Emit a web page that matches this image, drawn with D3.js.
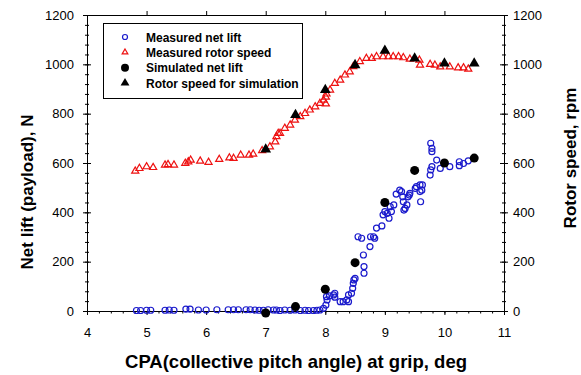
<!DOCTYPE html>
<html>
<head>
  <script src="https://d3js.org/d3.v7.min.js"></script>
  <style>
    body { margin: 0; background: #fff; }
    svg { font-family: Arial, "Liberation Sans", sans-serif; }
    .axis path, .axis line { stroke: #000; stroke-width: 1; }
    .axis text { font-size: 13px; fill: #000; }
    .title { font-size: 17px; font-weight: bold; }
    .legend text { font-size: 12px; font-weight: bold; }
  </style>
</head>
<body>
<script>
// measured net lift (blue open circles, left axis)
var liftCpa = [4.83,4.90,5.00,5.07,5.31,5.38,5.46,5.66,5.73,5.87,6.00,6.18,6.37,6.46,6.54,6.67,6.74,6.82,6.89,6.96,
  7.04,7.13,7.18,7.24,7.32,7.41,7.49,7.58,7.66,7.72,7.80,7.86,7.91,7.97,
  8.01,8.03,8.02,8.07,8.14,8.16,8.16,8.25,8.30,8.36,8.39,8.39,8.44,8.46,8.47,8.48,8.50,
  8.55,8.61,8.64,8.65,8.65,8.75,8.76,8.81,8.83,8.86,8.95,8.97,9.00,9.04,9.07,9.09,9.11,9.15,
  9.19,9.25,9.28,9.30,9.31,9.32,9.34,9.37,9.39,9.41,9.42,9.51,9.53,9.59,9.59,9.60,9.62,9.63,
  9.76,9.77,9.79,9.79,9.79,9.77,9.87,9.93,10.09,10.25,10.25,10.32,10.40];
var liftN = [2,2,3,3,3,4,3,8,8,4,4,5,5,5,5,5,5,4,3,3,
  5,4,4,2,4,3,4,2,3,2,2,3,4,11,
  24,45,58,61,65,72,56,38,38,45,38,65,72,92,112,126,132,
  301,295,227,180,153,261,301,301,295,336,345,390,403,396,376,423,403,430,
  474,490,484,463,443,409,416,430,463,470,477,497,504,511,484,443,490,511,
  551,572,585,646,659,680,612,578,585,605,589,598,609];

// measured rotor speed (red open triangles, right axis)
var rpmCpa = [4.81,4.88,5.00,5.11,5.31,5.36,5.46,5.65,5.70,5.74,5.90,6.04,6.22,6.39,6.46,6.58,6.72,6.79,6.94,
  7.07,7.16,7.18,7.21,7.24,7.32,7.41,7.49,7.58,7.66,7.74,7.83,7.91,7.97,8.01,8.01,8.02,8.08,8.16,8.25,
  8.33,8.41,8.47,8.58,8.69,8.78,8.86,8.97,9.06,9.14,9.23,9.31,9.42,9.58,9.59,9.76,9.84,9.93,
  10.09,10.23,10.32,10.40];
var rpm = [567,578,585,582,592,594,592,599,605,612,608,603,615,621,619,632,632,636,650,
  666,686,707,720,720,741,754,774,788,801,815,828,842,855,840,867,880,896,923,936,
  957,970,991,1011,1024,1024,1031,1031,1031,1031,1031,1027,1021,1017,997,1000,997,990,
  990,986,986,981];

// simulation (black filled markers)
var simCpa = [7.0,7.5,8.0,8.5,9.0,9.5,10.0,10.5];
var simLift = [-8,18,88,196,440,570,600,620];
var simRpm = [655,795,896,997,1055,1024,1004,1004];

var xTicks = [4,5,6,7,8,9,10,11];
var yTicks = [0,200,400,600,800,1000,1200];

var svg = d3.select("body").append("svg").attr("width", 581).attr("height", 375);

var pLeft = 87, pRight = 504, pTop = 15, pBottom = 311;
var x = d3.scaleLinear().domain([4, 11]).range([pLeft, pRight]);
var yL = d3.scaleLinear().domain([0, 1200]).range([pBottom, pTop]);
var yR = d3.scaleLinear().domain([0, 1200]).range([pBottom, pTop]);

// minor ticks
svg.append("g").attr("class", "axis").attr("transform", "translate(0," + pBottom + ")")
  .call(d3.axisBottom(x).tickValues(d3.range(4, 11.01, 0.2)).tickSize(2.5).tickFormat(""))
  .call(g => g.select(".domain").remove());
svg.append("g").attr("class", "axis").attr("transform", "translate(" + pLeft + ",0)")
  .call(d3.axisLeft(yL).tickValues(d3.range(0, 1201, 40)).tickSize(2).tickFormat(""))
  .call(g => g.select(".domain").remove())
  .selectAll(".tick line").attr("x1", 2);
svg.append("g").attr("class", "axis").attr("transform", "translate(" + pRight + ",0)")
  .call(d3.axisRight(yR).tickValues(d3.range(0, 1201, 40)).tickSize(2).tickFormat(""))
  .call(g => g.select(".domain").remove())
  .selectAll(".tick line").attr("x1", -2);

// major axes
var xAxis = svg.append("g").attr("class", "axis").attr("transform", "translate(0," + pBottom + ")")
  .call(d3.axisBottom(x).tickValues(xTicks).tickSize(4).tickSizeOuter(0).tickPadding(13).tickFormat(d3.format("d")));
xAxis.select(".domain").attr("d", "M" + pLeft + ",0.5H" + pRight);

svg.append("g").attr("class", "axis").attr("transform", "translate(0," + pTop + ")")
  .call(d3.axisTop(x).tickValues(xTicks.slice(1, -1)).tickSize(4).tickSizeOuter(0).tickFormat(""))
  .select(".domain").attr("d", "M" + pLeft + ",0.5H" + pRight);

svg.append("g").attr("class", "axis").attr("transform", "translate(" + pLeft + ",0)")
  .call(d3.axisLeft(yL).tickValues(yTicks).tickSize(4).tickSizeOuter(0).tickPadding(9).tickFormat(d3.format("d")))
  .call(g => g.select(".domain").attr("d", "M0.5," + pTop + "V" + pBottom))
  .selectAll(".tick line").attr("x1", 4);

svg.append("g").attr("class", "axis").attr("transform", "translate(" + pRight + ",0)")
  .call(d3.axisRight(yR).tickValues(yTicks).tickSize(4).tickSizeOuter(0).tickPadding(5).tickFormat(d3.format("d")))
  .call(g => g.select(".domain").attr("d", "M0.5," + pTop + "V" + pBottom))
  .selectAll(".tick line").attr("x1", -4);

// titles
svg.append("text").attr("class", "title").style("font-size", "18.5px")
  .attr("x", 296).attr("y", 368).attr("text-anchor", "middle")
  .text("CPA(collective pitch angle) at grip, deg");
svg.append("text").attr("class", "title")
  .attr("transform", "translate(33,192) rotate(-90)").attr("text-anchor", "middle")
  .text("Net lift (payload), N");
svg.append("text").attr("class", "title")
  .attr("transform", "translate(576,158) rotate(-90)").attr("text-anchor", "middle")
  .text("Rotor speed, rpm");

var tri = d3.symbol().type(d3.symbolTriangle);

// measured rotor speed
svg.append("g").selectAll("path")
  .data(d3.zip(rpmCpa, rpm)).enter().append("path")
  .attr("transform", d => "translate(" + x(d[0]) + "," + yR(d[1]) + ")")
  .attr("d", tri.size(22))
  .attr("fill", "none").attr("stroke", "#ee1111").attr("stroke-width", 1.2);

// measured net lift
svg.append("g").selectAll("circle")
  .data(d3.zip(liftCpa, liftN)).enter().append("circle")
  .attr("cx", d => x(d[0])).attr("cy", d => yL(d[1])).attr("r", 3)
  .attr("fill", "none").attr("stroke", "#1a1acc").attr("stroke-width", 1.2);

// simulation
svg.append("g").selectAll("circle")
  .data(d3.zip(simCpa, simLift)).enter().append("circle")
  .attr("cx", d => x(d[0])).attr("cy", d => yL(d[1])).attr("r", 4.5).attr("fill", "#000");
svg.append("g").selectAll("path")
  .data(d3.zip(simCpa, simRpm)).enter().append("path")
  .attr("transform", d => "translate(" + x(d[0]) + "," + yR(d[1]) + ")")
  .attr("d", tri.size(50)).attr("fill", "#000");

// legend
var lg = svg.append("g").attr("class", "legend");
lg.append("rect").attr("x", 103.5).attr("y", 23.5).attr("width", 199).attr("height", 75)
  .attr("fill", "#fff").attr("stroke", "#000");
var labels = ["Measured net lift", "Measured rotor speed", "Simulated net lift", "Rotor speed for simulation"];
var rowY = d3.scalePoint().domain(labels).range([37, 83]);
labels.forEach(function(t, i) {
  var cy = rowY(t);
  if (i == 0) lg.append("circle").attr("cx", 125).attr("cy", cy).attr("r", 2.5)
    .attr("fill", "none").attr("stroke", "#1a1acc").attr("stroke-width", 1.2);
  if (i == 1) lg.append("path").attr("transform", "translate(125," + cy + ")").attr("d", tri.size(14))
    .attr("fill", "none").attr("stroke", "#ee1111").attr("stroke-width", 1.2);
  if (i == 2) lg.append("circle").attr("cx", 125).attr("cy", cy).attr("r", 4).attr("fill", "#000");
  if (i == 3) lg.append("path").attr("transform", "translate(125," + cy + ")").attr("d", tri.size(34)).attr("fill", "#000");
  lg.append("text").attr("x", 146).attr("y", cy + 4.5).text(t);
});
</script>
</body>
</html>
